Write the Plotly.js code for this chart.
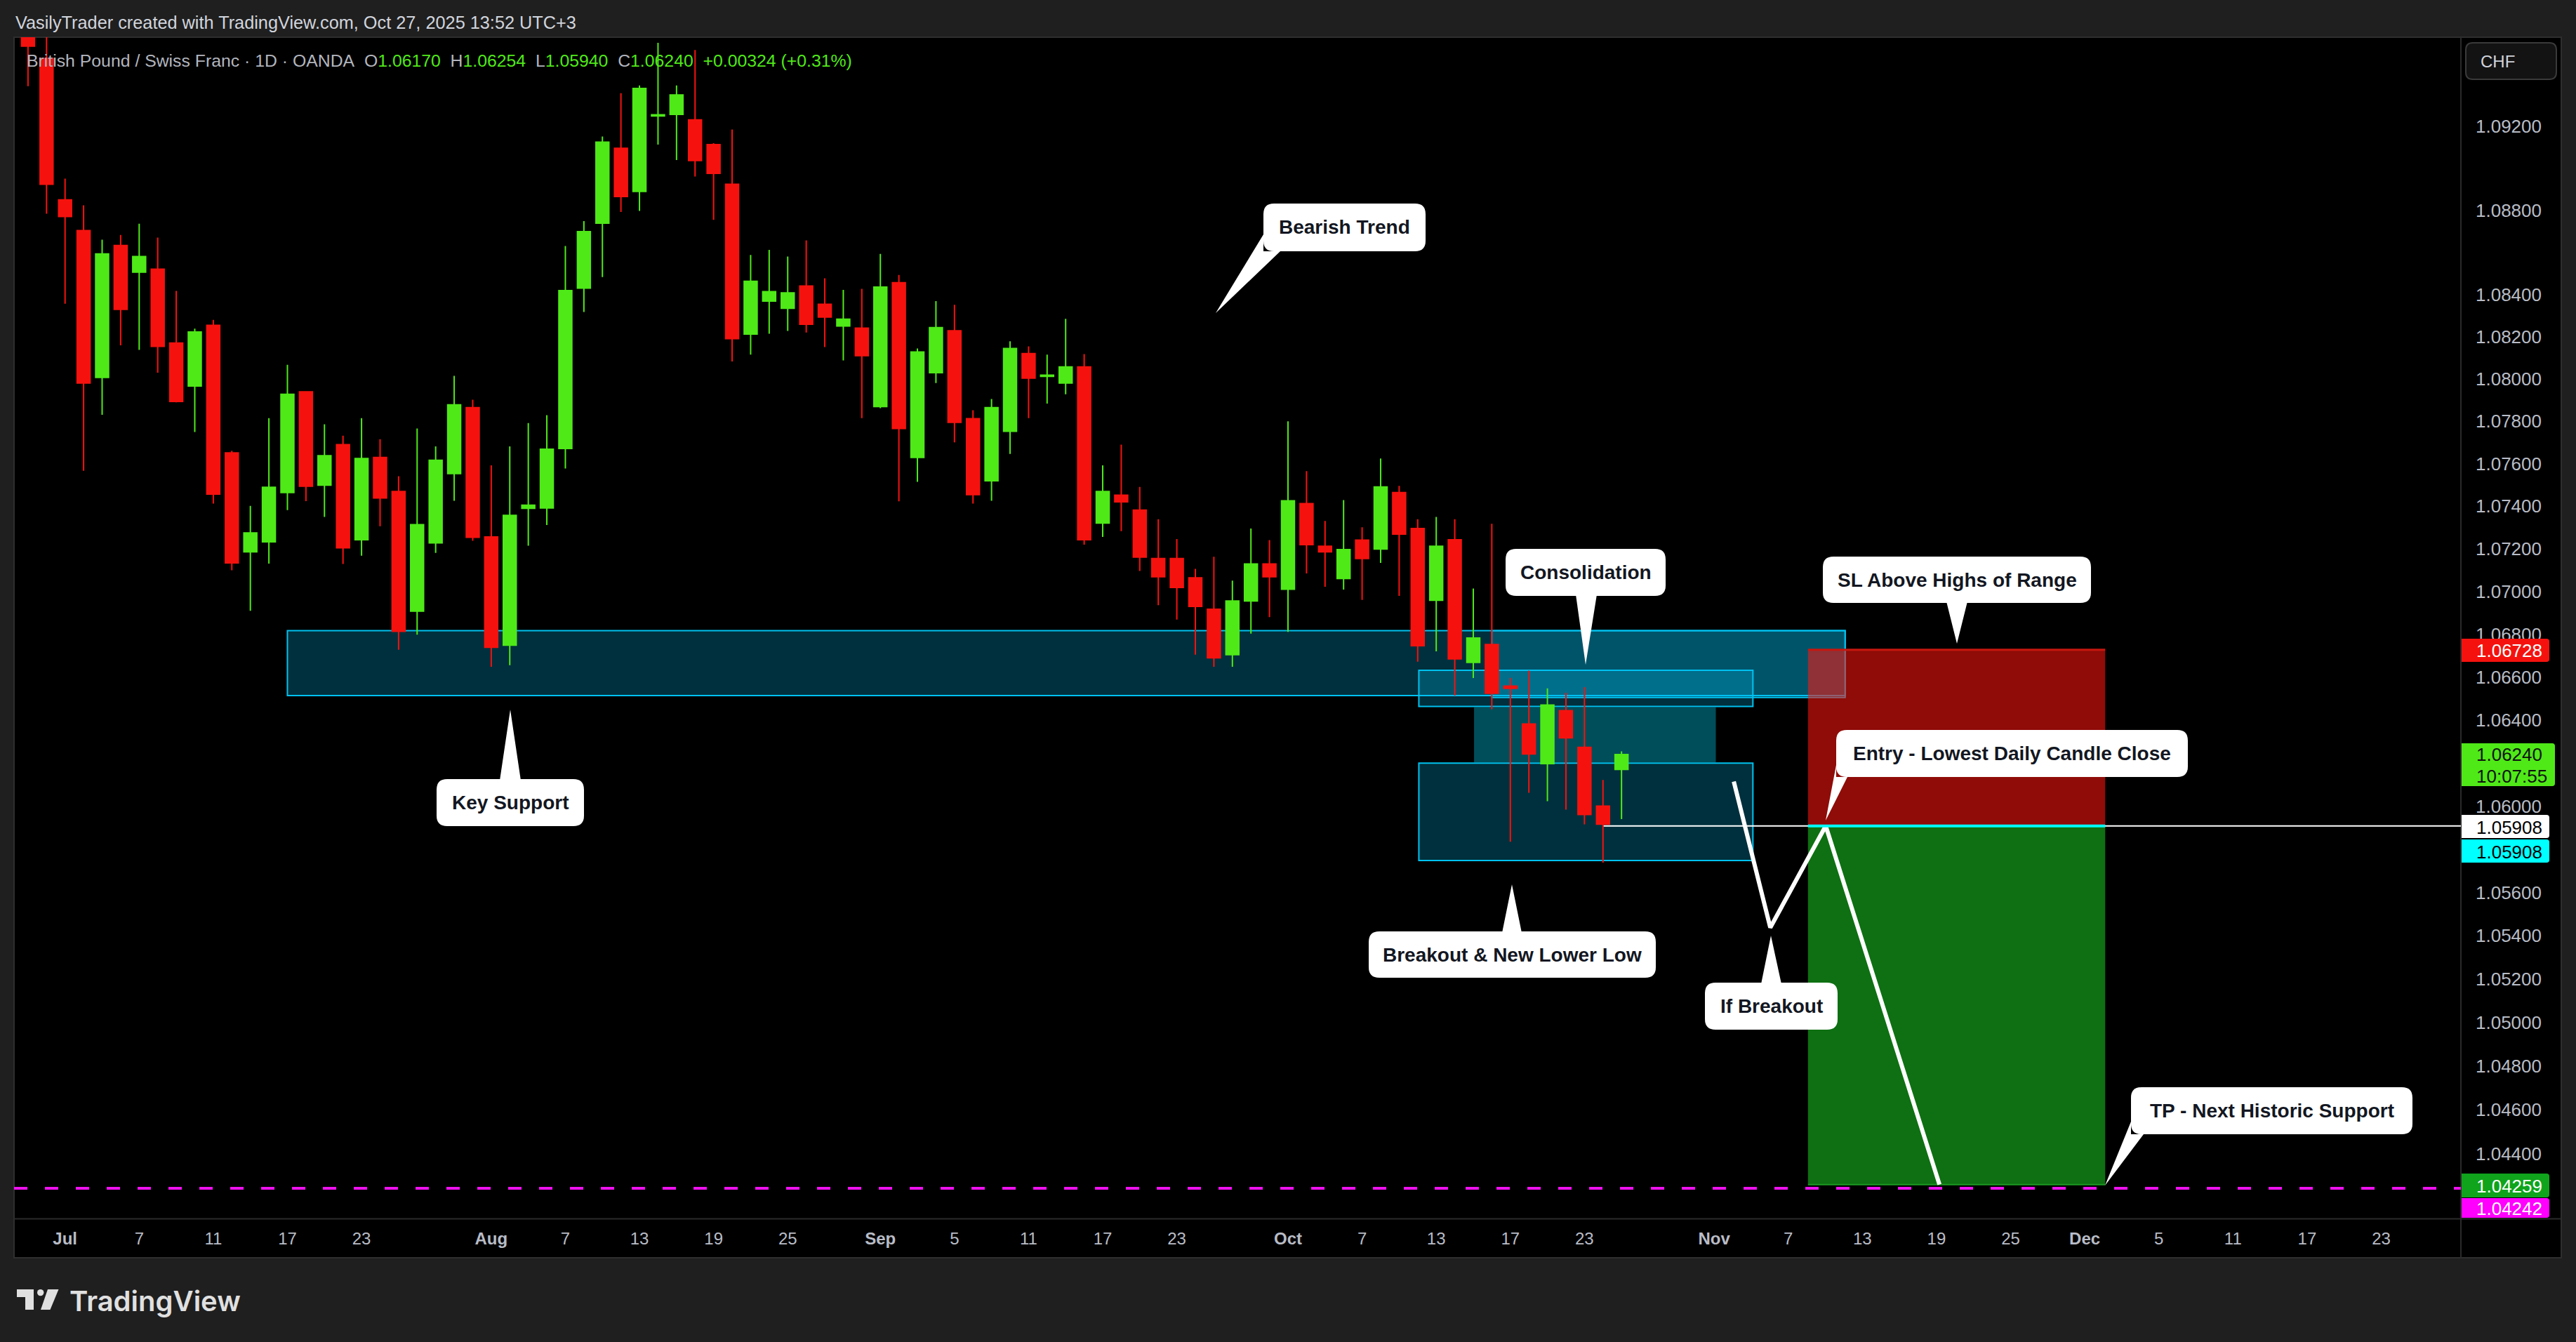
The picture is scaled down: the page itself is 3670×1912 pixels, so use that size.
<!DOCTYPE html>
<html><head><meta charset="utf-8">
<script src="https://cdn.plot.ly/plotly-3.0.1.min.js"></script>
<style>html,body{margin:0;padding:0;background:#1f1f1f;overflow:hidden}</style>
</head><body><div id="chart" style="width:3670px;height:1912px"></div>
<script>
// ---------------- DATA ----------------
const dates = ['2025-06-27','2025-06-30','2025-07-01','2025-07-02','2025-07-03','2025-07-04','2025-07-07','2025-07-08','2025-07-09','2025-07-10',
'2025-07-11','2025-07-14','2025-07-15','2025-07-16','2025-07-17','2025-07-18','2025-07-21','2025-07-22','2025-07-23','2025-07-24',
'2025-07-25','2025-07-28','2025-07-29','2025-07-30','2025-07-31','2025-08-01','2025-08-04','2025-08-05','2025-08-06','2025-08-07',
'2025-08-08','2025-08-11','2025-08-12','2025-08-13','2025-08-14','2025-08-15','2025-08-18','2025-08-19','2025-08-20','2025-08-21',
'2025-08-22','2025-08-25','2025-08-26','2025-08-27','2025-08-28','2025-08-29','2025-09-01','2025-09-02','2025-09-03','2025-09-04',
'2025-09-05','2025-09-08','2025-09-09','2025-09-10','2025-09-11','2025-09-12','2025-09-15','2025-09-16','2025-09-17','2025-09-18',
'2025-09-19','2025-09-22','2025-09-23','2025-09-24','2025-09-25','2025-09-26','2025-09-29','2025-09-30','2025-10-01','2025-10-02',
'2025-10-03','2025-10-06','2025-10-07','2025-10-08','2025-10-09','2025-10-10','2025-10-13','2025-10-14','2025-10-15','2025-10-16',
'2025-10-17','2025-10-20','2025-10-21','2025-10-22','2025-10-23','2025-10-24','2025-10-27'];

const open = [1.09850,1.09526,1.08850,1.08704,1.08007,1.08633,1.08506,1.08520,1.08170,1.07967,
1.08254,1.07651,1.07186,1.07233,1.07465,1.07939,1.07499,1.07690,1.07243,1.07630,
1.07470,1.06908,1.07228,1.07554,1.07865,1.07256,1.06749,1.07390,1.07392,1.07672,
1.08430,1.08739,1.09096,1.08890,1.09250,1.09258,1.09232,1.09114,1.08924,1.08212,
1.08369,1.08335,1.08440,1.08354,1.08251,1.08241,1.07870,1.08456,1.07630,1.08030,
1.08228,1.07813,1.07520,1.07753,1.08120,1.08012,1.07981,1.08057,1.07321,1.07452,
1.07382,1.07155,1.07155,1.07064,1.06917,1.06705,1.06956,1.07129,1.07011,1.07413,
1.07212,1.07061,1.07241,1.07199,1.07465,1.07296,1.06959,1.07243,1.06669,1.06752,
1.06558,1.06382,1.06197,1.06444,1.06273,1.06000,1.06170];

const high = [1.09920,1.09650,1.08951,1.08824,1.08660,1.08683,1.08736,1.08670,1.08417,1.08238,
1.08280,1.07661,1.07402,1.07815,1.08067,1.07942,1.07786,1.07732,1.07815,1.07716,
1.07541,1.07766,1.07682,1.08015,1.07902,1.07593,1.07682,1.07792,1.07829,1.08630,
1.08749,1.09152,1.09359,1.09396,1.09601,1.09396,1.09566,1.09120,1.09186,1.08588,
1.08612,1.08580,1.08657,1.08477,1.08422,1.08427,1.08593,1.08493,1.08144,1.08369,
1.08351,1.07852,1.07905,1.08178,1.08154,1.08115,1.08285,1.08118,1.07593,1.07690,
1.07491,1.07339,1.07246,1.07106,1.07163,1.07051,1.07296,1.07241,1.07800,1.07565,
1.07331,1.07429,1.07301,1.07625,1.07496,1.07339,1.07350,1.07339,1.07014,1.07318,
1.06597,1.06630,1.06548,1.06527,1.06553,1.06121,1.06254];

const low = [1.09393,1.08784,1.08356,1.07567,1.07831,1.08159,1.08138,1.08030,1.07890,1.07750,
1.07413,1.07100,1.06910,1.07131,1.07382,1.07424,1.07350,1.07129,1.07168,1.07306,
1.06728,1.06798,1.07181,1.07426,1.07238,1.06648,1.06656,1.07215,1.07312,1.07578,
1.08317,1.08483,1.08792,1.08797,1.09114,1.09040,1.08961,1.08755,1.08083,1.08115,
1.08214,1.08227,1.08220,1.08151,1.08088,1.07815,1.07862,1.07423,1.07515,1.07981,
1.07701,1.07413,1.07426,1.07646,1.07815,1.07884,1.07928,1.07220,1.07256,1.07283,
1.07096,1.06936,1.06869,1.06705,1.06648,1.06648,1.06803,1.06880,1.06811,1.07085,
1.07022,1.07009,1.06961,1.07134,1.06980,1.06672,1.06720,1.06514,1.06596,1.06450,
1.05835,1.06062,1.06023,1.05984,1.05915,1.05738,1.05940];

const close = [1.09585,1.08924,1.08771,1.07981,1.08593,1.08330,1.08580,1.08154,1.07894,1.08222,
1.07457,1.07134,1.07275,1.07489,1.07928,1.07494,1.07638,1.07205,1.07625,1.07439,
1.06814,1.07314,1.07617,1.07878,1.07254,1.06739,1.07357,1.07405,1.07669,1.08419,
1.08699,1.09125,1.08866,1.09382,1.09256,1.09351,1.09037,1.08976,1.08191,1.08463,
1.08414,1.08408,1.08259,1.08293,1.08283,1.08110,1.08435,1.07766,1.08128,1.08243,
1.07795,1.07455,1.07865,1.08144,1.08004,1.08018,1.08057,1.07243,1.07470,1.07421,
1.07161,1.07069,1.07019,1.06930,1.06690,1.06956,1.07129,1.07069,1.07426,1.07220,
1.07186,1.07197,1.07155,1.07491,1.07269,1.06747,1.07212,1.06685,1.06783,1.06525,
1.06548,1.06242,1.06470,1.06317,1.05961,1.05916,1.06240];

const tickDates = ['2025-07-01','2025-07-07','2025-07-11','2025-07-17','2025-07-23','2025-08-01','2025-08-07','2025-08-13','2025-08-19','2025-08-25',
'2025-09-01','2025-09-05','2025-09-11','2025-09-17','2025-09-23','2025-10-01','2025-10-07','2025-10-13','2025-10-17','2025-10-23',
'2025-11-03','2025-11-07','2025-11-13','2025-11-19','2025-11-25','2025-12-01','2025-12-05','2025-12-11','2025-12-17','2025-12-23'];
const tickLabels = ['<b>Jul</b>','7','11','17','23','<b>Aug</b>','7','13','19','25',
'<b>Sep</b>','5','11','17','23','<b>Oct</b>','7','13','17','23',
'<b>Nov</b>','7','13','19','25','<b>Dec</b>','5','11','17','23'];
const priceTicks = [1.092,1.088,1.084,1.082,1.080,1.078,1.076,1.074,1.072,1.070,1.068,1.066,1.064,1.060,1.056,1.054,1.052,1.050,1.048,1.046,1.044];
const priceTickLabels = priceTicks.map(v => v.toFixed(5));

// drawn zones: [startDate, endDate, topPrice, bottomPrice]
const keySupport = ['2025-07-17', '2025-11-12 01:40', 1.06817, 1.06514];
const rangeTopZone = ['2025-10-16', '2025-11-12 01:40', 1.06817, 1.06505];
const consolUpper = ['2025-10-10 01:30', '2025-11-05 02:10', 1.06632, 1.06463];
const consolMiddle = ['2025-10-15 01:00', '2025-11-03 02:10', 1.06460, 1.06204];
const consolLower = ['2025-10-10 01:30', '2025-11-05 02:10', 1.06200, 1.05748];
// short position
const posStart = '2025-11-10 01:30', posEnd = '2025-12-02 02:30';
const stopPrice = 1.06728, entryPrice = 1.05908, targetPrice = 1.04259;
const lowestClose = 1.05908, lowestCloseDate = '2025-10-24';
const historicSupport = 1.04242;
// projected path
const pathDates = ['2025-11-04 01:26','2025-11-06 00:43','2025-11-11 00:29','2025-11-19 03:50'];
const pathPrices = [1.06114, 1.05438, 1.05908, 1.04259];

// ---------------- LAYOUT HELPERS ----------------
const L = 20, R = 3506, T = 53, B = 1736, W = R - L, H = B - T;
const px = X => (X - L) / W;
const py = Y => (B - Y) / H;
const P = (x, y) => px(x).toFixed(6) + ',' + py(y).toFixed(6);
function roundRect(x0, y0, x1, y1, r) {
  return `M${P(x0+r,y0)}L${P(x1-r,y0)}Q${P(x1,y0)} ${P(x1,y0+r)}L${P(x1,y1-r)}Q${P(x1,y1)} ${P(x1-r,y1)}` +
         `L${P(x0+r,y1)}Q${P(x0,y1)} ${P(x0,y1-r)}L${P(x0,y0+r)}Q${P(x0,y0)} ${P(x0+r,y0)}Z`;
}
const poly = pts => 'M' + pts.map(p => P(p[0], p[1])).join('L') + 'Z';

const GREEN = '#4fe918', RED = '#f5120e';
const FONT = 'Liberation Sans, Arial, sans-serif';

const shapes = [];
const annotations = [];

// chart panel frame
shapes.push({type:'rect', xref:'paper', yref:'paper', x0:px(20), x1:px(3649), y0:py(1792), y1:py(53),
  fillcolor:'#000000', line:{color:'#2e2e2e', width:2}, layer:'below'});
shapes.push({type:'line', xref:'paper', yref:'paper', x0:px(3506), x1:px(3506), y0:py(53), y1:py(1792), line:{color:'#2a2a2a', width:2}, layer:'below'});
shapes.push({type:'line', xref:'paper', yref:'paper', x0:px(20), x1:px(3649), y0:py(1736.5), y1:py(1736.5), line:{color:'#2a2a2a', width:2}, layer:'below'});

const zoneFill = 'rgba(0,192,244,0.25)', zoneLine = '#00c2f0';
function zone(z, fill, line) {
  shapes.push({type:'rect', xref:'x', yref:'y', x0:z[0], x1:z[1], y0:z[3], y1:z[2], fillcolor:fill,
    line: line ? {color:line, width:2} : {width:0}, layer:'below'});
}
zone(keySupport, zoneFill, zoneLine);
zone(rangeTopZone, zoneFill, zoneLine);
zone(consolUpper, zoneFill, zoneLine);
zone(consolMiddle, 'rgba(0,120,138,0.65)', null);
zone(consolLower, zoneFill, zoneLine);

// position tool
shapes.push({type:'rect', xref:'x', yref:'y', x0:posStart, x1:posEnd, y0:entryPrice, y1:stopPrice, fillcolor:'rgba(255,22,14,0.56)', line:{width:0}, layer:'below'});
shapes.push({type:'rect', xref:'x', yref:'y', x0:posStart, x1:posEnd, y0:targetPrice, y1:entryPrice, fillcolor:'rgba(25,200,32,0.56)', line:{width:0}, layer:'below'});
shapes.push({type:'line', xref:'x', yref:'y', x0:posStart, x1:posEnd, y0:stopPrice, y1:stopPrice, line:{color:'#c8170f', width:3}, layer:'below'});
shapes.push({type:'line', xref:'x', yref:'y', x0:posStart, x1:posEnd, y0:targetPrice, y1:targetPrice, line:{color:'#1b9a20', width:2}, layer:'below'});
shapes.push({type:'line', xref:'x', yref:'y', x0:lowestCloseDate, x1:'2025-12-29 07:12', y0:lowestClose, y1:lowestClose, line:{color:'#ffffff', width:2}, layer:'below'});
shapes.push({type:'line', xref:'x', yref:'y', x0:posStart, x1:posEnd, y0:entryPrice, y1:entryPrice, line:{color:'#00ffff', width:4}, layer:'above'});
shapes.push({type:'line', xref:'paper', yref:'y', x0:0, x1:1, y0:historicSupport, y1:historicSupport, line:{color:'#ee11ee', width:4, dash:'19px,25px'}, layer:'above'});

// callouts (pixel layout)
const callouts = [
  {text:'Key Support', box:[622,1110,832,1177], ptr:[[712,1112],[742,1112],[727,1011]]},
  {text:'Bearish Trend', box:[1800,290,2031,358], ptr:[[1800,334],[1800,358],[1824,358],[1732,446]]},
  {text:'Consolidation', box:[2145,782,2373,849], ptr:[[2245,847],[2275,847],[2259,947]]},
  {text:'SL Above Highs of Range', box:[2597,793,2979,859], ptr:[[2773,857],[2803,857],[2788,917]]},
  {text:'Entry - Lowest Daily Candle Close', box:[2616,1040,3117,1107], ptr:[[2616,1090],[2616,1107],[2632,1107],[2601,1169]]},
  {text:'Breakout & New Lower Low', box:[1950,1327,2359,1393], ptr:[[2140,1329],[2168,1329],[2154,1260]]},
  {text:'If Breakout', box:[2429,1400,2618,1467], ptr:[[2509,1402],[2538,1402],[2523,1333]]},
  {text:'TP - Next Historic Support', box:[3036,1549,3437,1616], ptr:[[3036,1598],[3036,1616],[3054,1616],[2999,1689]]}
];
callouts.forEach(c => {
  const [x0,y0,x1,y1] = c.box;
  shapes.push({type:'path', xref:'paper', yref:'paper', path:roundRect(x0,y0,x1,y1,15), fillcolor:'#ffffff', line:{width:0}, layer:'above'});
  shapes.push({type:'path', xref:'paper', yref:'paper', path:poly(c.ptr), fillcolor:'#ffffff', line:{width:0}, layer:'above'});
  annotations.push({xref:'paper', yref:'paper', x:px((x0+x1)/2), y:py((y0+y1)/2), xanchor:'center', yanchor:'middle',
    text:c.text, showarrow:false, font:{family:FONT, size:28, weight:700, color:'#131722'}});
});

// price axis tags
const tags = [
  {lines:['1.06728'], y0:910, y1:943, x1:3632, bg:RED, fg:'#ffffff'},
  {lines:['1.06240','10:07:55'], y0:1059, y1:1120, x1:3640, bg:GREEN, fg:'#111111'},
  {lines:['1.05908'], y0:1161, y1:1194, x1:3632, bg:'#ffffff', fg:'#000000'},
  {lines:['1.05908'], y0:1196, y1:1229, x1:3632, bg:'#00ffff', fg:'#000000'},
  {lines:['1.04259'], y0:1672, y1:1706, x1:3632, bg:'#0fa41c', fg:'#ffffff'},
  {lines:['1.04242'], y0:1707, y1:1735, x1:3632, bg:'#ff00ff', fg:'#ffffff'}
];
tags.forEach(t => {
  shapes.push({type:'path', xref:'paper', yref:'paper',
    path:`M${P(3507,t.y0)}L${P(t.x1-4,t.y0)}Q${P(t.x1,t.y0)} ${P(t.x1,t.y0+4)}L${P(t.x1,t.y1-4)}Q${P(t.x1,t.y1)} ${P(t.x1-4,t.y1)}L${P(3507,t.y1)}Z`,
    fillcolor:t.bg, line:{width:0}, layer:'above'});
  const n = t.lines.length, step = (t.y1 - t.y0) / n;
  t.lines.forEach((s, i) => {
    annotations.push({xref:'paper', yref:'paper', x:px(3526), y:py(t.y0 + step*(i+0.5) + 1), xanchor:'left', yanchor:'middle',
      text:s, showarrow:false, font:{family:FONT, size:26, color:t.fg}});
  });
});

// currency button
shapes.push({type:'path', xref:'paper', yref:'paper', path:roundRect(3513,61,3642,113,10), fillcolor:'#131313', line:{color:'#3a3a3a', width:2}, layer:'above'});
annotations.push({xref:'paper', yref:'paper', x:px(3532), y:py(87), xanchor:'left', yanchor:'middle', text:'CHF', showarrow:false,
  font:{family:FONT, size:24, color:'#d1d4dc'}});

// header texts
annotations.push({xref:'paper', yref:'paper', x:px(20), y:py(32), xanchor:'left', yanchor:'middle',
  text:'VasilyTrader created with TradingView.com, Oct 27, 2025 13:52 UTC+3', showarrow:false,
  font:{family:FONT, size:25.3, color:'#d1d4dc'}});
const g = s => `<span style="color:${GREEN}">${s}</span>`;
const sp = '\u00a0\u00a0';
annotations.push({xref:'paper', yref:'paper', x:px(36), y:py(86), xanchor:'left', yanchor:'middle',
  text:'British Pound / Swiss Franc · 1D · OANDA' + sp + 'O' + g('1.06170') + sp + 'H' + g('1.06254') + sp + 'L' + g('1.05940') + sp + 'C' + g('1.06240') + sp + g('+0.00324 (+0.31%)'),
  showarrow:false, font:{family:FONT, size:24.8, color:'#b2b5be'}});

// TradingView logo
const logoColor = '#e0e0e0';
shapes.push({type:'path', xref:'paper', yref:'paper', path:poly([[24,1837],[48,1837],[48,1866],[36,1866],[36,1848],[24,1848]]), fillcolor:logoColor, line:{width:0}, layer:'above'});
shapes.push({type:'circle', xref:'paper', yref:'paper', x0:px(53), x1:px(62.4), y0:py(1846.3), y1:py(1836.9), fillcolor:logoColor, line:{width:0}, layer:'above'});
shapes.push({type:'path', xref:'paper', yref:'paper', path:poly([[68,1837],[83.5,1837],[71.5,1866],[58,1866]]), fillcolor:logoColor, line:{width:0}, layer:'above'});
annotations.push({xref:'paper', yref:'paper', x:px(97), y:py(1853), xanchor:'left', yanchor:'middle', text:'TradingView', showarrow:false,
  font:{family:'Inter, Liberation Sans, sans-serif', size:40, weight:600, color:logoColor}});

// ---------------- TRACES ----------------
const candles = {
  type:'candlestick', x:dates, open:open, high:high, low:low, close:close,
  increasing:{line:{color:GREEN, width:2}, fillcolor:GREEN},
  decreasing:{line:{color:RED, width:2}, fillcolor:RED},
  whiskerwidth:0, showlegend:false, hoverinfo:'skip'
};
const projection = {
  type:'scatter', mode:'lines', x:pathDates, y:pathPrices,
  line:{color:'#ffffff', width:6}, showlegend:false, hoverinfo:'skip'
};

const layout = {
  width:3670, height:1912,
  margin:{l:L, r:3670-R, t:T, b:1912-B, pad:0},
  paper_bgcolor:'#1f1f1f', plot_bgcolor:'#000000',
  showlegend:false, hovermode:false,
  boxgap:0.3, boxgroupgap:0,
  xaxis:{type:'date', range:['2025-06-26 05:54','2025-12-29 07:12'],
    rangebreaks:[{bounds:['sat','mon']}], rangeslider:{visible:false},
    tickvals:tickDates, ticktext:tickLabels, ticks:'', ticklen:0, ticklabelstandoff:12,
    showgrid:false, zeroline:false, showline:false,
    tickfont:{family:FONT, size:24, color:'#b8bcc6'}},
  yaxis:{type:'log', side:'right', range:[Math.log10(1.041043), Math.log10(1.096276)],
    tickvals:priceTicks, ticktext:priceTickLabels, ticks:'', ticklabelstandoff:20,
    showgrid:false, zeroline:false, showline:false,
    tickfont:{family:FONT, size:26, color:'#b8bcc6'}},
  shapes:shapes, annotations:annotations
};

Plotly.newPlot('chart', [candles, projection], layout, {staticPlot:true, displayModeBar:false});
</script></body></html>
